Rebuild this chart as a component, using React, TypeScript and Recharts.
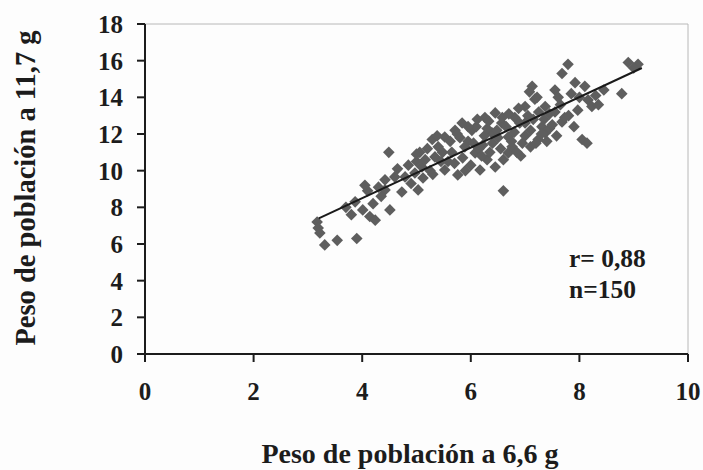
import React from 'react';
import {
  ScatterChart,
  Scatter,
  XAxis,
  YAxis,
  ReferenceLine,
} from 'recharts';

// peso a 6,6 g (x) y peso a 11,7 g (y)
const PESO_X = [
  3.17, 3.19, 3.22, 3.31, 3.54, 3.9, 3.87, 3.7, 4.01, 4.1, 4.14, 4.24, 4.2, 4.3, 4.42, 4.42, 4.49, 4.51, 4.6, 4.05, 3.8, 4.35,
  4.73, 4.79, 4.97, 5.03, 5.06, 5.1, 5.16, 5.29, 5.34, 5.4, 5.52, 5.52, 4.85, 4.9, 5.0, 5.2, 5.25, 5.3, 5.45, 4.65, 5.12, 5.38, 5.48, 5.58, 5.0,
  5.71, 5.76, 5.84, 5.89, 6.02, 6.08, 6.17, 6.26, 6.3, 6.39, 6.45, 6.57, 5.65, 5.7, 5.8, 5.85, 5.95, 6.0, 6.05, 6.1,
  6.15, 6.2, 6.25, 6.3, 6.35, 6.4, 6.45, 6.5, 6.55, 6.6, 5.62, 5.75, 5.9, 6.12, 6.22, 6.33, 6.48, 6.58, 6.6, 5.95,
  6.69, 6.69, 6.76, 6.81, 7.0, 7.13, 7.0, 7.24, 7.31, 7.18, 7.37, 7.37, 6.65, 6.7, 6.75, 6.8, 6.85, 6.9, 6.95, 7.0,
  7.05, 7.1, 7.1, 7.15, 7.2, 7.25, 7.3, 7.35, 7.4, 7.45, 7.45, 6.88, 7.08, 7.22, 6.92,
  7.55, 7.61, 7.68, 7.79, 7.68, 7.73, 7.92, 7.97, 8.05, 8.1, 8.14, 8.16, 8.23, 8.78, 8.9, 9.08, 7.5, 7.55, 7.65, 7.8,
  7.85, 8.0, 8.3, 8.35, 8.45, 7.58, 9.0, 7.9,
];
const PESO_Y = [
  7.2, 6.87, 6.6, 5.95, 6.2, 6.3, 8.3, 8.0, 7.86, 8.9, 7.5, 7.3, 8.2, 9.1, 9.5, 8.95, 11.0, 7.86, 9.66, 9.2, 7.6, 8.6,
  8.84, 9.66, 9.87, 8.95, 11.0, 10.2, 10.6, 11.7, 10.75, 11.3, 10.04, 11.84, 10.3, 9.3, 10.5, 11.2, 10.0, 9.8, 10.5, 10.1, 9.6, 11.9, 11.0, 10.5, 10.9,
  12.2, 9.77, 12.6, 11.3, 12.2, 10.97, 10.04, 12.9, 10.6, 12.06, 13.15, 12.6, 11.0, 10.4, 11.8, 10.7, 11.6, 10.3, 11.5, 12.4,
  11.2, 10.8, 11.9, 12.3, 11.0, 11.5, 10.2, 11.8, 11.2, 10.6, 11.6, 12.0, 10.0, 12.8, 11.4, 12.7, 12.2, 12.9, 8.9, 12.4,
  11.84, 10.97, 11.3, 12.9, 13.5, 14.6, 12.6, 11.7, 12.4, 13.9, 13.5, 12.06, 12.4, 13.1, 11.6, 12.1, 11.0, 12.6, 11.5, 11.9,
  13.0, 12.2, 11.3, 12.8, 11.5, 13.2, 12.0, 12.8, 11.6, 13.1, 12.3, 13.4, 14.3, 14.0, 10.8,
  14.4, 14.0, 15.3, 15.8, 12.66, 12.9, 14.8, 13.3, 11.7, 14.6, 11.5, 13.86, 13.5, 14.2, 15.9, 15.8, 12.5, 13.2, 13.6, 13.0,
  14.2, 14.0, 14.1, 13.6, 14.4, 11.9, 15.6, 12.4,
];

// recta de regresión (extremos)
const LINE_X = [3.2, 9.15];
const LINE_Y = [7.4, 15.6];

const X_TICKS = [0, 2, 4, 6, 8, 10];
const Y_TICKS = [0, 2, 4, 6, 8, 10, 12, 14, 16, 18];

const points = PESO_X.map((x, i) => ({ x, y: PESO_Y[i] }));
const linePts = LINE_X.map((x, i) => ({ x, y: LINE_Y[i] }));

const FONT = '"Liberation Serif", "Times New Roman", serif';
const INK = '#1c1c1c';

function Diamond(props: any) {
  const { cx, cy } = props;
  const r = 5.8;
  return (
    <path
      d={`M${cx},${cy - r}L${cx + r},${cy}L${cx},${cy + r}L${cx - r},${cy}Z`}
      fill="#5e5e5e"
    />
  );
}

const tickStyle = { fontSize: 25, fontWeight: 700, fill: INK, fontFamily: FONT };

export default function App() {
  return (
    <div
      style={{
        position: 'absolute',
        left: 0,
        top: 0,
        width: 703,
        height: 470,
        background: '#fdfdfd',
        fontFamily: FONT,
        color: INK,
      }}
    >
      <ScatterChart
        width={703}
        height={470}
        margin={{ top: 24, right: 15, left: 0, bottom: 0 }}
      >
        <XAxis
          type="number"
          dataKey="x"
          domain={[0, 10]}
          ticks={X_TICKS}
          height={116}
          tickSize={8}
          tickMargin={20}
          stroke={INK}
          strokeWidth={2}
          tick={tickStyle}
          interval={0}
        />
        <YAxis
          type="number"
          dataKey="y"
          domain={[0, 18]}
          ticks={Y_TICKS}
          width={145}
          tickSize={8}
          tickMargin={14}
          stroke={INK}
          strokeWidth={2}
          tick={tickStyle}
          interval={0}
        />
        <ReferenceLine y={18} stroke="#b8b8b8" strokeWidth={1} />
        <ReferenceLine x={10} stroke="#b8b8b8" strokeWidth={1} />
        <Scatter data={points} shape={Diamond} isAnimationActive={false} />
        <Scatter
          data={linePts}
          line={{ stroke: '#1a1a1a', strokeWidth: 2 }}
          shape={() => <g />}
          isAnimationActive={false}
        />
      </ScatterChart>

      <div
        style={{
          position: 'absolute',
          left: 26,
          top: 188,
          transform: 'translate(-50%, -50%) rotate(-90deg)',
          whiteSpace: 'nowrap',
          fontSize: 28.5,
          fontWeight: 700,
        }}
      >
        Peso de población a 11,7 g
      </div>
      <div
        style={{
          position: 'absolute',
          left: 410,
          top: 454,
          transform: 'translate(-50%, -50%)',
          whiteSpace: 'nowrap',
          fontSize: 28,
          fontWeight: 700,
        }}
      >
        Peso de población a 6,6 g
      </div>
      <div
        style={{
          position: 'absolute',
          left: 569,
          top: 243,
          fontSize: 25.5,
          fontWeight: 700,
          lineHeight: '31px',
        }}
      >
        <div>r= 0,88</div>
        <div>n=150</div>
      </div>
    </div>
  );
}
